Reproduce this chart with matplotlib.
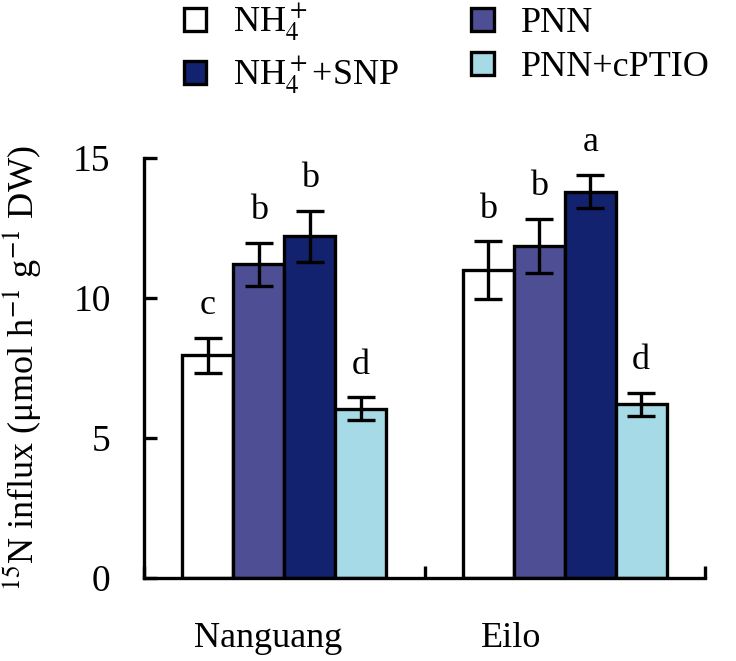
import numpy as np
import matplotlib
matplotlib.use("Agg")
import matplotlib.pyplot as plt
from matplotlib.patches import Patch

plt.rcParams['font.family'] = ['Liberation Serif', 'DejaVu Serif']
plt.rcParams['mathtext.fontset'] = 'stix'

# data
cultivars = ['Nanguang', 'Eilo']
treatments = ['NH$_4^+$', 'PNN', 'NH$_4^+$+SNP', 'PNN+cPTIO']
means = [[7.95, 11.2, 12.2, 6.05],
         [11.0, 11.85, 13.8, 6.2]]
errs = [[0.63, 0.78, 0.9, 0.4],
        [1.02, 0.97, 0.6, 0.42]]
letters = [['c', 'b', 'b', 'd'],
           ['b', 'b', 'a', 'd']]
colors = ['#ffffff', '#4d4e93', '#13226e', '#a6dae6']

means = np.array(means)
errs = np.array(errs)

fig = plt.figure(figsize=(7.36, 6.61), dpi=100)
ax = fig.add_axes([0.1957, 0.1256, 0.7622, 0.6354])

x = np.arange(len(cultivars))
w = 0.1815
offs = (np.arange(4) - 1.5) * w

handles = []
for i in range(4):
    ax.bar(x + offs[i], means[:, i], width=w, color=colors[i],
           edgecolor='black', linewidth=2.4, zorder=2)
    ax.errorbar(x + offs[i], means[:, i], yerr=errs[:, i], fmt='none',
                ecolor='black', elinewidth=2.4, capsize=10, capthick=2.4, zorder=3)
    for j in range(len(cultivars)):
        ax.text(x[j] + offs[i], means[j, i] + errs[j, i] + 0.85, letters[j][i],
                ha='center', va='baseline', fontsize=26)
    handles.append(Patch(facecolor=colors[i], edgecolor='black', linewidth=2.4,
                         label=treatments[i]))

ax.set_xlim(-0.5, 1.5)
ax.set_ylim(0, 15)
ax.set_yticks([0, 5, 10, 15])
ax.tick_params(axis='y', direction='in', length=9.5, width=2.4, labelsize=27, pad=24)

# group boundaries as major ticks, names as minor ticks
ax.set_xticks([-0.5, 0.5, 1.5])
ax.set_xticklabels([])
ax.set_xticks([-0.058, 0.807], minor=True)
ax.set_xticklabels(cultivars, minor=True)
ax.tick_params(axis='x', which='major', direction='in', length=9, width=2.4)
ax.tick_params(axis='x', which='minor', length=0, labelsize=26, pad=32)

for s in ['top', 'right']:
    ax.spines[s].set_visible(False)
for s in ['left', 'bottom']:
    ax.spines[s].set_linewidth(2.4)

ax.set_ylabel('$^{15}$N influx (μmol h$^{-1}$ g$^{-1}$ DW)', fontsize=26)
ax.yaxis.set_label_coords(-0.18, 0.5)

order = [0, 2, 1, 3]
ax.legend([handles[k] for k in order], [treatments[k] for k in order],
          ncol=2, loc='upper left', bbox_to_anchor=(0.22, 1.03), bbox_transform=fig.transFigure,
          frameon=False, fontsize=26, handlelength=0.62, handleheight=0.62,
          handletextpad=0.75, columnspacing=2.0, labelspacing=0.3, borderpad=0.1)

fig.savefig('out.png', dpi=100)
